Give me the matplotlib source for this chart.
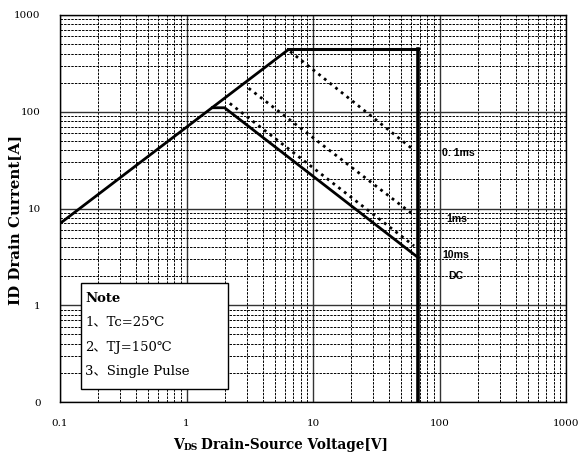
import matplotlib
matplotlib.use("Agg")
import matplotlib.pyplot as plt
import numpy as np

# ---- data ----
rds_v = [0.1, 6.4]
rds_i = [7.0, 440]
top_v = [6.4, 68]
top_i = [440, 440]
bv_v = [68, 68]
bv_i = [440, 0.1]
dc_v = [1.6, 2.0, 68]
dc_i = [110, 110, 3.1]
p01_v = [6.6, 63]
p01_i = [420, 40]
p1_v = [3.1, 63]
p1_i = [175, 8.5]
p10_v = [2.2, 63]
p10_i = [122, 4.1]
pulse_labels = ["0. 1ms", "1ms", "10ms", "DC"]
label_pos_v = [105, 113, 105, 118]
label_pos_i = [37.6, 7.8, 3.3, 2.0]
xticks = [0.1, 1, 10, 100, 1000]
xticklabels = ["0.1", "1", "10", "100", "1000"]
yticks = [0.1, 1, 10, 100, 1000]
yticklabels = ["0", "1", "10", "100", "1000"]
note_lines = ["Note", "1、Tc=25℃", "2、TJ=150℃", "3、Single Pulse"]

serif = ["DejaVu Serif", "Noto Sans CJK SC"]

fig = plt.figure(figsize=(5.8, 4.59), dpi=100)
ax = fig.add_axes([60/580, 1-402/459, 506/580, 387/459])
ax.set_xscale("log")
ax.set_yscale("log")
ax.set_xlim(0.1, 1000)
ax.set_ylim(0.1, 1000)

ax.grid(True, which="major", color="#333333", lw=1.0, ls="-")
ax.grid(True, which="minor", color="black", lw=0.7, ls=(0, (2.5, 1.2)))
ax.set_axisbelow(True)

ax.set_xticks(xticks)
ax.set_xticklabels(xticklabels, family="DejaVu Serif", fontsize=7.5)
ax.set_yticks(yticks)
ax.set_yticklabels(yticklabels, family="DejaVu Serif", fontsize=7.5)
ax.tick_params(which="both", length=0)
ax.tick_params(axis="x", pad=12)
ax.tick_params(axis="y", pad=14)
ax.yaxis.set_minor_formatter(matplotlib.ticker.NullFormatter())
ax.xaxis.set_minor_formatter(matplotlib.ticker.NullFormatter())
for s in ax.spines.values():
    s.set_linewidth(1.0)

# SOA lines
ax.plot(rds_v, rds_i, color="black", lw=2.0, solid_capstyle="butt")
ax.plot(top_v, top_i, color="black", lw=2.2)
ax.plot(bv_v, bv_i, color="black", lw=2.6)
ax.plot(dc_v, dc_i, color="black", lw=2.0)
dot = (0, (1, 1.6))
ax.plot(p01_v, p01_i, color="black", lw=2.0, ls=dot)
ax.plot(p1_v, p1_i, color="black", lw=2.0, ls=dot)
ax.plot(p10_v, p10_i, color="black", lw=2.0, ls=dot)

for lab, xv, yv in zip(pulse_labels, label_pos_v, label_pos_i):
    ax.text(xv, yv, lab, fontsize=7.6, fontweight="bold", family="Liberation Sans",
            ha="left", va="center")

# Note box
ax.add_patch(plt.Rectangle((81/580, 1-389/459), 147/580, 106/459,
                           transform=fig.transFigure, facecolor="white",
                           edgecolor="black", lw=1.0, zorder=5))
ys = [298, 322, 347, 372]
for txt, yp in zip(note_lines, ys):
    fig.text(85/580, 1-yp/459, txt, family=serif, fontsize=9.5,
             fontweight="bold" if txt == "Note" else "normal",
             va="center", ha="left", zorder=6)

# axis labels
fig.text(15/580, 1-220/459, "ID Drain Current[A]", rotation=90, family="DejaVu Serif",
         fontweight="bold", fontsize=10.8, ha="center", va="center")
t1 = fig.text(173/580, 1-452/459, "V", family="DejaVu Serif", fontweight="bold",
              fontsize=10, ha="left", va="bottom")
t2 = ax.annotate("DS", xy=(1, 0), xycoords=t1, family="DejaVu Serif",
                 fontweight="bold", fontsize=6.5, ha="left", va="bottom",
                 annotation_clip=False)
t3 = ax.annotate("Drain-Source Voltage[V]", xy=(1, 0), xycoords=t2,
                 xytext=(2, 0), textcoords="offset points",
                 family="DejaVu Serif", fontweight="bold", fontsize=9.8,
                 ha="left", va="bottom", annotation_clip=False)

fig.savefig("out.png", dpi=100)
